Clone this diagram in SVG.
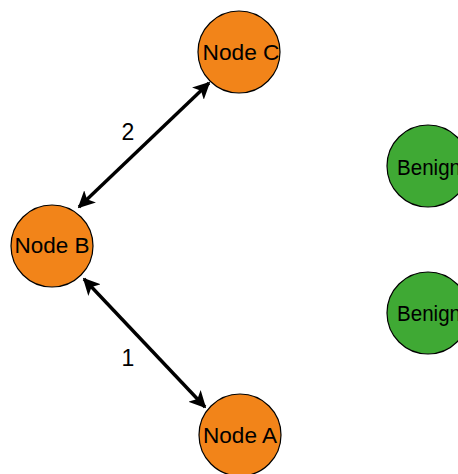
<svg xmlns="http://www.w3.org/2000/svg" width="458" height="474" viewBox="0 0 458 474">
<style>
.n{stroke:#000;stroke-width:1.2}
.o{fill:#F28419}
.g{fill:#3FA934}
.t{font-family:"Gill Sans","Liberation Sans",Arial,sans-serif;font-size:22px;fill:#000;text-anchor:middle}
.tb{font-family:"Gill Sans","Liberation Sans",Arial,sans-serif;font-size:22px;fill:#000}
.l{font-family:"Liberation Sans",Arial,sans-serif;font-size:23px;fill:#000;text-anchor:middle}
.e{stroke:#000;stroke-width:3.4;fill:none}
</style>
<defs>
<marker id="ah" viewBox="0 0 10 10" refX="9" refY="5" markerWidth="5" markerHeight="5" orient="auto-start-reverse" markerUnits="strokeWidth">
<path d="M0,0 L10,5 L0,10 L2.5,5 Z" fill="#000"/>
</marker>
</defs>
<g id="connectors">
<line class="e" x1="79" y1="207" x2="209" y2="83" marker-start="url(#ah)" marker-end="url(#ah)"/>
<line class="e" x1="84" y1="279" x2="205" y2="407" marker-start="url(#ah)" marker-end="url(#ah)"/>
<text class="l" x="128" y="140">2</text>
<text class="l" x="128" y="366">1</text>
</g>
<g id="nodeC"><circle class="n o" cx="239" cy="52" r="41"/><text class="t" x="241" y="60" textLength="77" lengthAdjust="spacingAndGlyphs">Node C</text></g>
<g id="nodeB"><circle class="n o" cx="52" cy="246" r="41"/><text class="t" x="52" y="253" textLength="75" lengthAdjust="spacingAndGlyphs">Node B</text></g>
<g id="nodeA"><circle class="n o" cx="240" cy="435" r="41"/><text class="t" x="240" y="443" textLength="74" lengthAdjust="spacingAndGlyphs">Node A</text></g>
<g id="benign1"><circle class="n g" cx="428" cy="166" r="41"/><text class="tb" x="397" y="175" textLength="64" lengthAdjust="spacingAndGlyphs">Benign</text></g>
<g id="benign2"><circle class="n g" cx="428" cy="313" r="41"/><text class="tb" x="397" y="321" textLength="64" lengthAdjust="spacingAndGlyphs">Benign</text></g>
</svg>
